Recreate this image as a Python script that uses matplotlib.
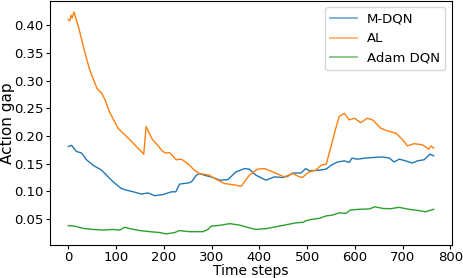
import matplotlib
matplotlib.use("Agg")
import matplotlib.pyplot as plt
from matplotlib.lines import Line2D

# ---------------- data ----------------
mdqn_steps = [0, 7, 17, 28, 38, 52, 70, 80, 94, 111, 122, 132, 153, 167, 181, 198,
              216, 225, 233, 251, 258, 268, 275, 285, 303, 317, 334, 351, 369, 379,
              393, 414, 431, 449, 459, 470, 487, 497, 505, 525, 540, 550, 564, 578,
              588, 594, 605, 623, 637, 658, 672, 682, 693, 706, 720, 731, 745, 757, 765]
mdqn_vals = [0.181, 0.183, 0.172, 0.169, 0.157, 0.147, 0.138, 0.129, 0.117, 0.105,
             0.102, 0.100, 0.095, 0.097, 0.092, 0.094, 0.099, 0.099, 0.113, 0.115,
             0.117, 0.129, 0.132, 0.129, 0.125, 0.120, 0.121, 0.135, 0.141, 0.140,
             0.129, 0.120, 0.126, 0.125, 0.127, 0.133, 0.133, 0.141, 0.137, 0.138,
             0.140, 0.147, 0.153, 0.155, 0.152, 0.160, 0.158, 0.160, 0.161, 0.162,
             0.160, 0.153, 0.158, 0.155, 0.151, 0.155, 0.157, 0.167, 0.164]

al_steps = [0, 3, 6, 8, 12, 21, 35, 45, 60, 70, 77, 87, 104, 129, 158, 163, 175,
            198, 204, 212, 226, 237, 254, 264, 275, 296, 302, 327, 351, 362, 379,
            396, 411, 428, 452, 470, 484, 490, 504, 518, 529, 540, 550, 560, 567,
            578, 588, 599, 612, 626, 637, 654, 668, 686, 700, 710, 724, 741, 755,
            759, 765]
al_vals = [0.410, 0.408, 0.418, 0.413, 0.424, 0.398, 0.350, 0.319, 0.286, 0.277,
           0.265, 0.242, 0.214, 0.193, 0.167, 0.217, 0.195, 0.172, 0.169, 0.170,
           0.157, 0.158, 0.147, 0.138, 0.132, 0.129, 0.125, 0.114, 0.111, 0.109,
           0.129, 0.140, 0.141, 0.135, 0.126, 0.132, 0.126, 0.125, 0.135, 0.138,
           0.147, 0.149, 0.181, 0.214, 0.235, 0.241, 0.229, 0.232, 0.224, 0.232,
           0.229, 0.214, 0.209, 0.205, 0.193, 0.182, 0.186, 0.184, 0.176, 0.182,
           0.178]

adam_steps = [0, 14, 31, 52, 73, 94, 108, 118, 129, 150, 171, 191, 205, 223, 232,
              254, 282, 292, 299, 317, 338, 358, 379, 393, 414, 435, 459, 477, 492,
              498, 511, 525, 540, 553, 567, 581, 590, 609, 630, 642, 658, 675, 692,
              713, 731, 748, 765]
adam_vals = [0.038, 0.037, 0.033, 0.031, 0.030, 0.031, 0.030, 0.035, 0.0325, 0.029,
             0.027, 0.0255, 0.023, 0.0255, 0.029, 0.027, 0.027, 0.031, 0.037, 0.0385,
             0.0415, 0.039, 0.034, 0.031, 0.0325, 0.036, 0.040, 0.043, 0.044, 0.047,
             0.0495, 0.051, 0.0555, 0.057, 0.061, 0.060, 0.066, 0.0675, 0.068, 0.072,
             0.069, 0.0685, 0.071, 0.0675, 0.0655, 0.063, 0.0675]

labels = ['M-DQN', 'AL', 'Adam DQN']
colors = ['tab:blue', 'tab:orange', 'tab:green']

# ---------------- plot ----------------
fig, ax = plt.subplots(figsize=(4.64, 2.78), dpi=100)
fig.subplots_adjust(left=50/464, right=452/464, top=0.997, bottom=1 - 245/278)

ax.plot(mdqn_steps, mdqn_vals, color=colors[0], linewidth=1)
ax.plot(al_steps, al_vals, color=colors[1], linewidth=1)
ax.plot(adam_steps, adam_vals, color=colors[2], linewidth=1)

ax.set_xticks([0, 100, 200, 300, 400, 500, 600, 700, 800])
ax.set_yticks([0.05, 0.10, 0.15, 0.20, 0.25, 0.30, 0.35, 0.40])
ax.tick_params(labelsize=9.5, length=3, pad=1.5)
ax.set_xlabel('Time steps', fontsize=10)
ax.set_ylabel('Action gap', fontsize=11)
ax.xaxis.set_label_coords(0.5, -0.077)
ax.yaxis.set_label_coords(-0.087, 0.5)

handles = [Line2D([], [], color=c, linewidth=1.3, alpha=0.6) for c in colors]
ax.legend(handles, labels, loc='upper right', fontsize=9.5)

fig.savefig('out.png', dpi=100)
